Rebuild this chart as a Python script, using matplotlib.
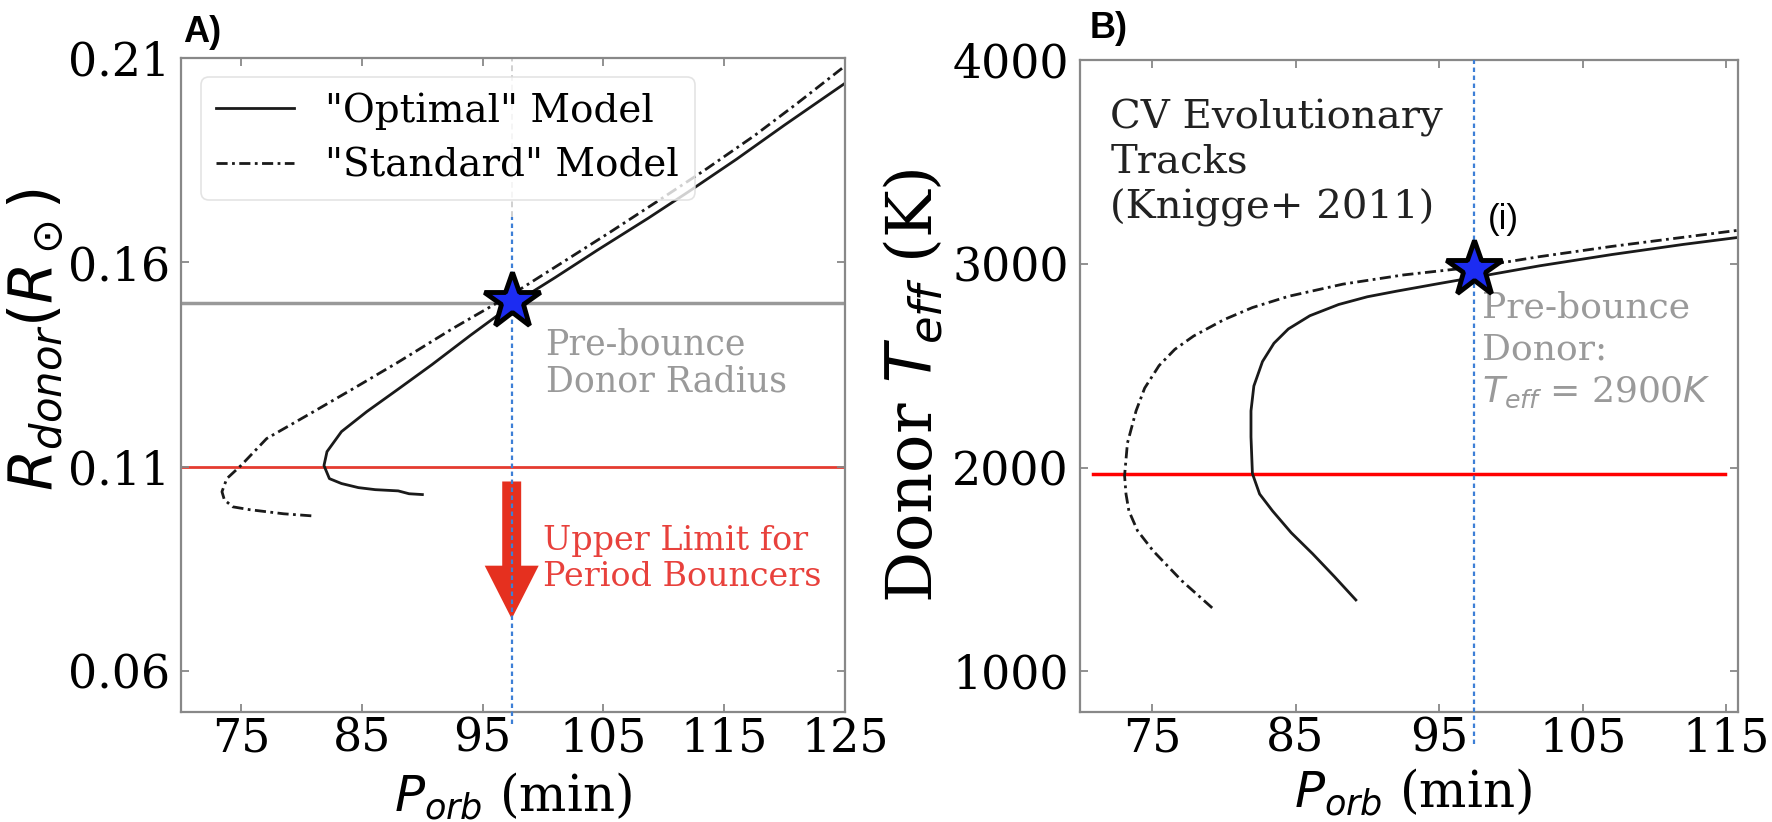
import matplotlib
matplotlib.use('Agg')
import matplotlib.pyplot as plt

plt.rcParams['font.family'] = 'serif'
plt.rcParams['font.serif'] = ['DejaVu Serif']
plt.rcParams['mathtext.fontset'] = 'dejavusans'

# ---- panel A: donor radius vs orbital period ----
p_opt_a = [90.0, 88.9, 88.0, 86.1, 84.7, 83.3, 82.3, 81.85, 82.1, 83.3, 85.4,
           88.0, 90.8, 94.0, 97.6, 101.0, 104.5, 108.7, 112.0, 116.0, 120.0, 124.9]
r_opt_a = [0.1032, 0.1034, 0.1041, 0.1044, 0.1049, 0.1059, 0.1071, 0.1103, 0.1137,
           0.1186, 0.1235, 0.1290, 0.1350, 0.1422, 0.1500, 0.1563, 0.1630, 0.1708,
           0.1772, 0.1852, 0.1936, 0.2036]
p_std_a = [80.8, 78.5, 77.1, 75.7, 74.3, 73.6, 73.4, 73.8, 74.97, 77.1, 81.0,
           84.5, 88.0, 92.5, 97.6, 101.5, 105.5, 109.5, 113.4, 117.5, 121.0, 124.9]
r_std_a = [0.0980, 0.0985, 0.0990, 0.0995, 0.1002, 0.1019, 0.1039, 0.1071, 0.1103,
           0.1169, 0.1235, 0.1295, 0.1356, 0.1438, 0.1525, 0.1598, 0.1673, 0.1750,
           0.1826, 0.1910, 0.1988, 0.2078]

# ---- panel B: donor Teff vs orbital period ----
p_opt_b = [89.2, 87.7, 86.2, 84.7, 83.4, 82.5, 82.0, 81.9, 81.9, 82.1, 82.7, 83.5,
           84.5, 86.0, 88.0, 90.0, 92.0, 95.0, 97.6, 102.0, 107.0, 112.0, 116.0]
t_opt_b = [1350, 1465, 1576, 1680, 1787, 1870, 1970, 2150, 2278, 2400, 2520, 2610,
           2680, 2745, 2800, 2838, 2865, 2903, 2935, 2990, 3045, 3095, 3131]
p_std_b = [79.2, 77.1, 75.1, 74.0, 73.4, 73.2, 73.1, 73.3, 73.9, 74.5, 75.5, 76.6,
           77.9, 80.0, 82.0, 84.5, 88.3, 92.5, 97.6, 102.0, 107.0, 112.0, 116.0]
t_std_b = [1311, 1443, 1590, 1690, 1787, 1870, 1960, 2120, 2278, 2390, 2500, 2580,
           2645, 2725, 2785, 2840, 2900, 2945, 2985, 3035, 3085, 3130, 3166]

p_star = 97.4
r_star = 0.1505
t_star = 2975
r_prebounce = 0.150
r_limit = 0.110
t_limit = 1970

xticks_a = [75, 85, 95, 105, 115, 125]
yticks_a = [0.06, 0.11, 0.16, 0.21]
xticks_b = [75, 85, 95, 105, 115]
yticks_b = [1000, 2000, 3000, 4000]

gray = '#888888'
dashdot = (0, (4, 1.6, 1, 1.6))
vblue = '#3d7fd6'

fig = plt.figure(figsize=(17.72, 8.22), dpi=100)
axA = fig.add_axes([0.1021, 0.1338, 0.3747, 0.7956])
axB = fig.add_axes([0.6095, 0.1338, 0.3713, 0.7932])

for ax in (axA, axB):
    for s in ax.spines.values():
        s.set_color(gray)
        s.set_linewidth(1.6)
    ax.tick_params(direction='in', length=6, width=1.3, color=gray,
                   top=True, right=True, labelsize=33)
    ax.tick_params(axis='x', pad=3)
    ax.tick_params(axis='y', pad=8)

# panel A
axA.plot(p_opt_a, r_opt_a, color='#1a1a1a', lw=2.0, label='"Optimal" Model')
axA.plot(p_std_a, r_std_a, color='#1a1a1a', lw=2.0, ls=dashdot, label='"Standard" Model')
axA.axhline(r_prebounce, color='#999999', lw=2.5, zorder=1)
axA.axhline(r_limit, color='#e53b30', lw=2.0, zorder=1)
axA.axvline(p_star, ymin=-0.018, ymax=0.757, color=vblue, lw=1.6,
            ls=(0, (2, 1.6)), clip_on=False, zorder=3)
axA.axvline(p_star, ymin=0.757, ymax=1.0, color='#d0d0d0', lw=1.4,
            ls=(0, (3, 2)), zorder=0)
axA.arrow(p_star, 0.1064, 0, -0.0336, width=1.57, head_width=4.47,
          head_length=0.013, length_includes_head=True, color='#e5301f',
          lw=0, zorder=2)
axA.plot(p_star, r_star, marker='*', ms=42, mfc='#1c2cf2', mec='black',
         mew=3.5, zorder=10)
axA.text(100.2, 0.1440, 'Pre-bounce\nDonor Radius', color='#9a9a9a',
         fontsize=25, va='top', ha='left', linespacing=1.1)
axA.text(100.0, 0.0875, 'Upper Limit for\nPeriod Bouncers', color='#e8413c',
         fontsize=24, va='center', ha='left', linespacing=1.15)
axA.set_xlim(70, 125)
axA.set_ylim(0.05, 0.21)
axA.set_xticks(xticks_a)
axA.set_yticks(yticks_a)
axA.set_xlabel(r'$P_{orb}$ (min)', fontsize=36)
axA.set_ylabel(r'$R_{donor}(R_\odot)$', fontsize=43)
axA.xaxis.set_label_coords(0.5, -0.09)
axA.yaxis.set_label_coords(-0.172, 0.57)
leg = axA.legend(loc='upper left', bbox_to_anchor=(0.03, 0.971), borderaxespad=0,
                 fontsize=28, handlelength=2.0, frameon=True, fancybox=True,
                 labelspacing=0.45)
leg.get_frame().set_edgecolor('#dddddd')
leg.get_frame().set_linewidth(1.2)

# panel B
axB.plot(p_opt_b, t_opt_b, color='#1a1a1a', lw=2.0)
axB.plot(p_std_b, t_std_b, color='#1a1a1a', lw=2.0, ls=dashdot)
axB.axhline(t_limit, xmin=0.02, xmax=0.98, color='#ff0000', lw=2.5, zorder=1)
axB.axvline(p_star, ymin=-0.049, ymax=1.0, color=vblue, lw=1.6,
            ls=(0, (2, 1.6)), clip_on=False, zorder=3)
axB.plot(p_star, t_star, marker='*', ms=42, mfc='#1c2cf2', mec='black',
         mew=3.5, zorder=10)
axB.text(72.1, 3810, 'CV Evolutionary\nTracks\n(Knigge+ 2011)', color='#222222',
         fontsize=29, va='top', ha='left', linespacing=1.25)
axB.text(98.4, 3215, '(i)', fontsize=25, family='Liberation Sans',
         va='center', ha='left')
axB.text(98.0, 2870, 'Pre-bounce\nDonor:\n$T_{eff}$ = 2900$K$', color='#9a9a9a',
         fontsize=26, va='top', ha='left', linespacing=1.3)
axB.set_xlim(70, 115.8)
axB.set_ylim(800, 4000)
axB.set_xticks(xticks_b)
axB.set_yticks(yticks_b)
axB.set_xlabel(r'$P_{orb}$ (min)', fontsize=36)
axB.set_ylabel(r'Donor $T_{eff}$ (K)', fontsize=46)
axB.xaxis.set_label_coords(0.506, -0.085)
axB.yaxis.set_label_coords(-0.205, 0.5)

fig.text(183 / 1772, 1 - 32 / 822, 'A)', fontsize=26, weight='bold',
         family='Liberation Sans', va='center', ha='left')
fig.text(1090 / 1772, 1 - 28 / 822, 'B)', fontsize=26, weight='bold',
         family='Liberation Sans', va='center', ha='left')

fig.savefig('out.png', dpi=100)
